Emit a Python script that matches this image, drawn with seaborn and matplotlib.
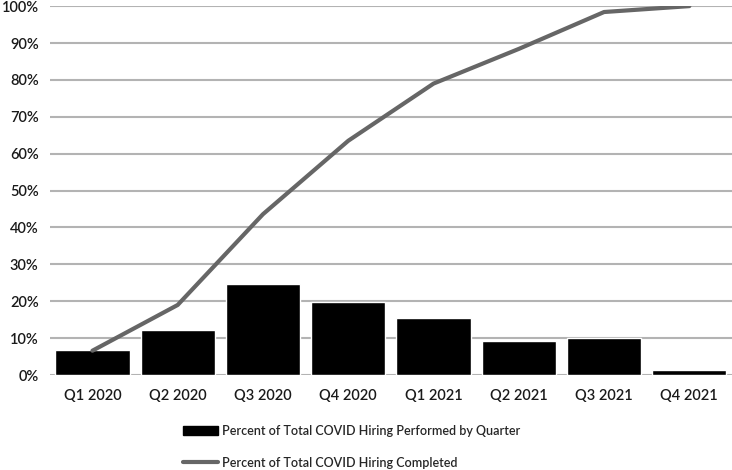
import matplotlib
matplotlib.use("Agg")
import matplotlib.pyplot as plt
import seaborn as sns
from matplotlib.patches import Patch
from matplotlib.lines import Line2D
from matplotlib.ticker import PercentFormatter

quarters = ["Q1 2020", "Q2 2020", "Q3 2020", "Q4 2020",
            "Q1 2021", "Q2 2021", "Q3 2021", "Q4 2021"]
per_quarter = [6.8, 12.2, 24.7, 19.9, 15.4, 9.2, 10.1, 1.4]
cumulative = [6.6, 19.0, 43.6, 63.5, 79.0, 88.4, 98.4, 100.0]

bar_label = "Percent of Total COVID Hiring Performed by Quarter"
line_label = "Percent of Total COVID Hiring Completed"

sns.set_style("white")
plt.rcParams["font.family"] = ["Lato", "DejaVu Sans"]

fig = plt.figure(figsize=(7.32, 4.70), dpi=100)
ax = fig.add_axes([0.068, 0.202, 0.932, 0.785])

sns.barplot(x=quarters, y=per_quarter, color="black", width=0.87,
            saturation=1, ax=ax, zorder=2)
sns.pointplot(x=quarters, y=cumulative, color="#666666", markers="",
              linewidth=3, ax=ax, zorder=3)

ax.set_ylim(0, 100)
ax.set_yticks(range(0, 101, 10))
ax.yaxis.set_major_formatter(PercentFormatter(decimals=0))
ax.set_xlim(-0.5, len(quarters) - 0.5)
ax.grid(axis="y", color="#b3b3b3", linewidth=1.5, zorder=0)
ax.set_axisbelow(True)
for s in ax.spines.values():
    s.set_visible(False)
ax.tick_params(axis="both", length=0, labelsize=10.5, colors="#1a1a1a", pad=8)
ax.tick_params(axis="x", pad=10)
for t in ax.get_xticklabels() + ax.get_yticklabels():
    t.set_fontweight("semibold")
ax.set_xlabel("")
ax.set_ylabel("")

handles = [Patch(facecolor="black", edgecolor="black"),
           Line2D([0], [0], color="#666666", linewidth=3)]
fig.legend(handles, [bar_label, line_label], loc="lower center",
           bbox_to_anchor=(0.48, -0.021), ncol=1, frameon=False,
           handlelength=2.8, handletextpad=0.3, labelspacing=1.55,
           prop={"weight": "semibold", "size": 9.0})

fig.savefig("out.png", dpi=100)
